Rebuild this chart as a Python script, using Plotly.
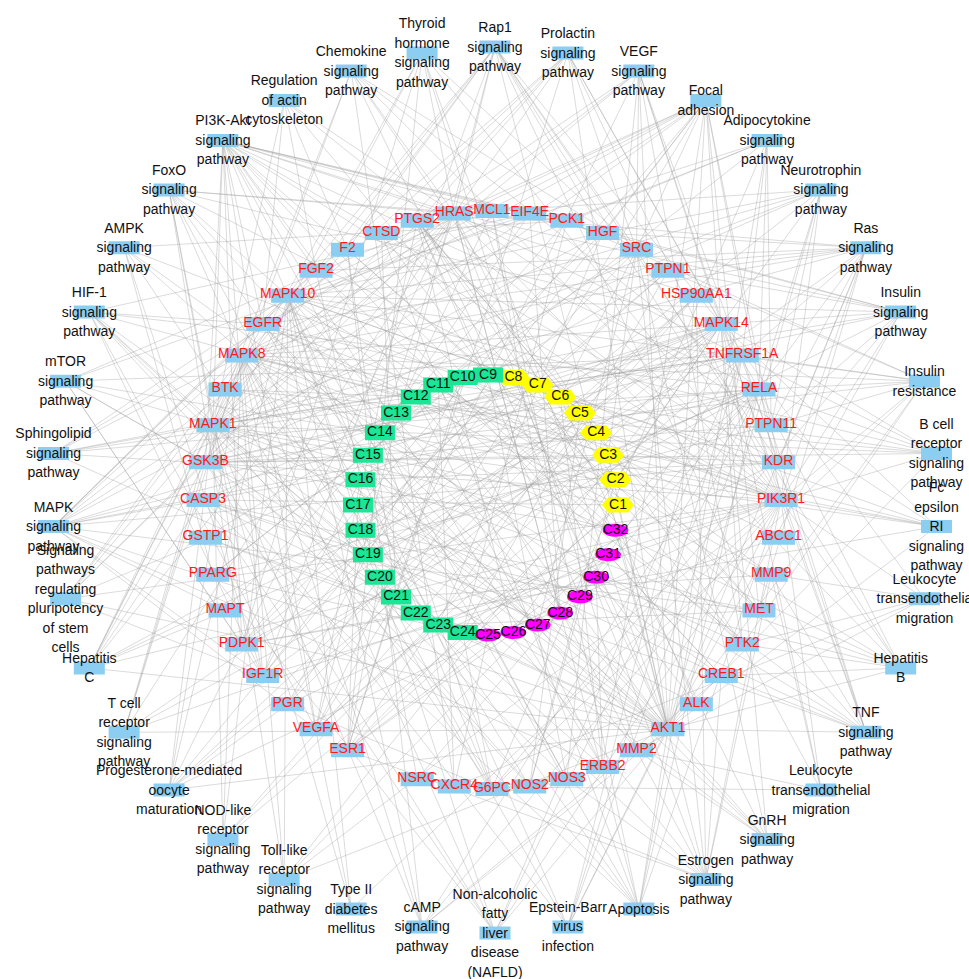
import math
import plotly.graph_objects as go

# ---------------- data ----------------
pathways = [
    "Rap1", "Prolactin", "VEGF", "Focal adhesion", "Adipocytokine", "Neurotrophin",
    "Ras", "Insulin", "Insulin resistance", "B cell receptor", "Fc epsilon RI",
    "Leukocyte TEM 1", "Hepatitis B", "TNF", "Leukocyte TEM 2", "GnRH", "Estrogen",
    "Apoptosis", "EBV", "NAFLD", "cAMP", "T2D", "Toll-like", "NOD-like",
    "Progesterone", "T cell receptor", "Hepatitis C", "Pluripotency", "MAPK",
    "Sphingolipid", "mTOR", "HIF-1", "AMPK", "FoxO", "PI3K-Akt", "Actin", "Chemokine",
    "Thyroid hormone",
]
pathway_labels = [
    "Rap1\nsignaling\npathway", "Prolactin\nsignaling\npathway", "VEGF\nsignaling\npathway",
    "Focal\nadhesion", "Adipocytokine\nsignaling\npathway", "Neurotrophin\nsignaling\npathway",
    "Ras\nsignaling\npathway", "Insulin\nsignaling\npathway", "Insulin\nresistance",
    "B cell\nreceptor\nsignaling\npathway", "Fc\nepsilon\nRI\nsignaling\npathway",
    "Leukocyte\ntransendothelia\nmigration", "Hepatitis\nB", "TNF\nsignaling\npathway",
    "Leukocyte\ntransendothelial\nmigration", "GnRH\nsignaling\npathway",
    "Estrogen\nsignaling\npathway", "Apoptosis", "Epstein-Barr\nvirus\ninfection",
    "Non-alcoholic\nfatty\nliver\ndisease\n(NAFLD)", "cAMP\nsignaling\npathway",
    "Type II\ndiabetes\nmellitus", "Toll-like\nreceptor\nsignaling\npathway",
    "NOD-like\nreceptor\nsignaling\npathway", "Progesterone-mediated\noocyte\nmaturation",
    "T cell\nreceptor\nsignaling\npathway", "Hepatitis\nC",
    "Signaling\npathways\nregulating\npluripotency\nof stem\ncells",
    "MAPK\nsignaling\npathway", "Sphingolipid\nsignaling\npathway", "mTOR\nsignaling\npathway",
    "HIF-1\nsignaling\npathway", "AMPK\nsignaling\npathway", "FoxO\nsignaling\npathway",
    "PI3K-Akt\nsignaling\npathway", "Regulation\nof actin\ncytoskeleton",
    "Chemokine\nsignaling\npathway", "Thyroid\nhormone\nsignaling\npathway",
]

genes = [
    "MCL1", "EIF4E", "PCK1", "HGF", "SRC", "PTPN1", "HSP90AA1", "MAPK14", "TNFRSF1A",
    "RELA", "PTPN11", "KDR", "PIK3R1", "ABCC1", "MMP9", "MET", "PTK2", "CREB1", "ALK",
    "AKT1", "MMP2", "ERBB2", "NOS3", "NOS2", "G6PC", "CXCR4", "NSRC", "ESR1", "VEGFA",
    "PGR", "IGF1R", "PDPK1", "MAPT", "PPARG", "GSTP1", "CASP3", "GSK3B", "MAPK1", "BTK",
    "MAPK8", "EGFR", "MAPK10", "FGF2", "F2", "CTSD", "PTGS2", "HRAS",
]

compounds = [
    "C1", "C2", "C3", "C4", "C5", "C6", "C7", "C8", "C9", "C10", "C11", "C12", "C13",
    "C14", "C15", "C16", "C17", "C18", "C19", "C20", "C21", "C22", "C23", "C24", "C25",
    "C26", "C27", "C28", "C29", "C30", "C31", "C32",
]
compound_class = ["A"] * 8 + ["B"] * 16 + ["C"] * 8

pathway_genes = {
    "Rap1": ["HRAS", "SRC", "KDR", "MET", "EGFR", "IGF1R", "FGF2", "HGF", "VEGFA", "MAPK1", "MAPK14", "AKT1", "PIK3R1", "F2"],
    "Prolactin": ["HRAS", "SRC", "MAPK1", "MAPK8", "MAPK14", "AKT1", "PIK3R1", "GSK3B", "ESR1", "RELA", "MAPK10"],
    "VEGF": ["HRAS", "SRC", "KDR", "VEGFA", "PTGS2", "NOS3", "MAPK1", "MAPK14", "AKT1", "PIK3R1", "PTK2"],
    "Focal adhesion": ["HRAS", "SRC", "KDR", "MET", "EGFR", "ERBB2", "IGF1R", "HGF", "VEGFA", "PTK2", "PDPK1", "AKT1", "PIK3R1", "GSK3B", "MAPK1", "MAPK8", "MAPK10"],
    "Adipocytokine": ["PCK1", "G6PC", "TNFRSF1A", "RELA", "MAPK8", "MAPK10", "AKT1", "PTPN11", "PPARG"],
    "Neurotrophin": ["HRAS", "PTPN11", "PDPK1", "AKT1", "PIK3R1", "GSK3B", "MAPK1", "MAPK8", "MAPK14", "MAPK10", "RELA"],
    "Ras": ["HRAS", "KDR", "MET", "EGFR", "IGF1R", "HGF", "VEGFA", "FGF2", "PTPN11", "AKT1", "PIK3R1", "MAPK1", "MAPK8", "MAPK10", "RELA"],
    "Insulin": ["HRAS", "PTPN1", "PTPN11", "PCK1", "G6PC", "EIF4E", "PDPK1", "AKT1", "PIK3R1", "GSK3B", "MAPK1", "MAPK8", "MAPK10"],
    "Insulin resistance": ["PTPN1", "PTPN11", "PCK1", "G6PC", "CREB1", "TNFRSF1A", "RELA", "AKT1", "PIK3R1", "GSK3B", "MAPK8", "MAPK10"],
    "B cell receptor": ["HRAS", "BTK", "GSK3B", "PIK3R1", "AKT1", "MAPK1", "MAPK8", "MAPK14", "MAPK10", "RELA"],
    "Fc epsilon RI": ["HRAS", "BTK", "PDPK1", "AKT1", "PIK3R1", "MAPK1", "MAPK8", "MAPK14", "MAPK10"],
    "Leukocyte TEM 1": ["PTK2", "CXCR4", "MMP9", "MMP2", "PIK3R1", "MAPK14"],
    "Hepatitis B": ["HRAS", "SRC", "PTK2", "AKT1", "PIK3R1", "MAPK1", "MAPK8", "MAPK10", "RELA", "CASP3", "CREB1"],
    "TNF": ["TNFRSF1A", "RELA", "MAPK1", "MAPK8", "MAPK14", "MAPK10", "AKT1", "PIK3R1", "CASP3", "PTGS2", "MMP9", "CREB1"],
    "Leukocyte TEM 2": ["PTK2", "CXCR4", "MMP9", "MMP2", "MAPK14", "PIK3R1"],
    "GnRH": ["HRAS", "SRC", "EGFR", "MAPK1", "MAPK8", "MAPK14", "MAPK10", "MMP2"],
    "Estrogen": ["HRAS", "SRC", "EGFR", "ESR1", "PGR", "HSP90AA1", "CREB1", "AKT1", "PIK3R1", "MAPK1", "MMP9", "MMP2", "NOS3"],
    "Apoptosis": ["TNFRSF1A", "RELA", "MCL1", "CASP3", "AKT1", "PIK3R1", "MAPK1", "MAPK8", "MAPK10", "CTSD", "HRAS"],
    "EBV": ["RELA", "MAPK8", "MAPK14", "MAPK10", "AKT1", "PIK3R1", "GSK3B", "TNFRSF1A"],
    "NAFLD": ["PIK3R1", "AKT1", "GSK3B", "MAPK8", "MAPK10", "TNFRSF1A", "RELA", "PPARG", "CASP3"],
    "cAMP": ["CREB1", "MAPK1", "MAPK8", "MAPK10", "AKT1", "PIK3R1", "RELA", "F2"],
    "T2D": ["PIK3R1", "MAPK1", "MAPK8", "MAPK10"],
    "Toll-like": ["RELA", "MAPK1", "MAPK8", "MAPK14", "MAPK10", "AKT1", "PIK3R1"],
    "NOD-like": ["RELA", "MAPK1", "MAPK8", "MAPK14", "MAPK10", "HSP90AA1"],
    "Progesterone": ["HRAS", "PGR", "MAPK1", "MAPK8", "MAPK14", "MAPK10", "AKT1", "PIK3R1", "IGF1R", "HSP90AA1"],
    "T cell receptor": ["HRAS", "AKT1", "PIK3R1", "GSK3B", "MAPK1", "MAPK14", "RELA", "MAPK8"],
    "Hepatitis C": ["HRAS", "EGFR", "RELA", "AKT1", "PIK3R1", "GSK3B", "MAPK1", "MAPK14", "MAPK8", "CASP3", "TNFRSF1A"],
    "Pluripotency": ["HRAS", "IGF1R", "FGF2", "GSK3B", "AKT1", "PIK3R1", "MAPK1", "MAPK14", "MAPK8"],
    "MAPK": ["HRAS", "EGFR", "IGF1R", "MET", "HGF", "KDR", "VEGFA", "FGF2", "ERBB2", "MAPK1", "MAPK8", "MAPK14", "MAPK10", "AKT1", "RELA", "CASP3", "TNFRSF1A", "MAPT"],
    "Sphingolipid": ["HRAS", "PIK3R1", "AKT1", "MAPK1", "MAPK8", "MAPK14", "MAPK10", "RELA", "TNFRSF1A"],
    "mTOR": ["HRAS", "EIF4E", "PDPK1", "AKT1", "PIK3R1", "GSK3B", "MAPK1", "IGF1R", "TNFRSF1A"],
    "HIF-1": ["EGFR", "ERBB2", "IGF1R", "VEGFA", "NOS3", "NOS2", "AKT1", "PIK3R1", "MAPK1", "RELA", "EIF4E"],
    "AMPK": ["PCK1", "G6PC", "CREB1", "PPARG", "AKT1", "PIK3R1", "IGF1R"],
    "FoxO": ["HRAS", "EGFR", "IGF1R", "PDPK1", "AKT1", "PIK3R1", "MAPK1", "MAPK8", "MAPK14", "MAPK10", "PCK1", "G6PC"],
    "PI3K-Akt": ["HRAS", "MCL1", "EIF4E", "PCK1", "HGF", "KDR", "MET", "EGFR", "ERBB2", "IGF1R", "FGF2", "VEGFA", "PTK2", "PDPK1", "AKT1", "PIK3R1", "GSK3B", "MAPK1", "RELA", "HSP90AA1", "NOS3", "CREB1", "G6PC"],
    "Actin": ["HRAS", "EGFR", "FGF2", "F2", "PTK2", "PIK3R1", "MAPK1"],
    "Chemokine": ["HRAS", "CXCR4", "PTK2", "AKT1", "PIK3R1", "GSK3B", "MAPK1", "RELA", "SRC"],
    "Thyroid hormone": ["HRAS", "SRC", "ESR1", "AKT1", "PIK3R1", "GSK3B", "MAPK1", "PDPK1", "MMP2"],
}

compound_targets = {
    "C1": ["AKT1", "MAPK1", "PTGS2", "ESR1", "CASP3", "EGFR"],
    "C2": ["PTGS2", "NOS2", "ESR1", "PPARG", "MAPK14"],
    "C3": ["AKT1", "SRC", "EGFR", "KDR", "MMP9", "GSK3B"],
    "C4": ["PTGS2", "PIK3R1", "MAPK8", "RELA", "CASP3"],
    "C5": ["HSP90AA1", "ESR1", "PGR", "NOS2", "PTGS2"],
    "C6": ["EGFR", "ERBB2", "MET", "KDR", "SRC", "ALK"],
    "C7": ["MAPK10", "MAPK14", "GSK3B", "TNFRSF1A", "PTPN1"],
    "C8": ["AKT1", "PIK3R1", "IGF1R", "PDPK1", "MAPK1"],
    "C9": ["PTGS2", "NOS3", "F2", "CTSD", "PTPN1"],
    "C10": ["ESR1", "PGR", "PPARG", "GSTP1", "ABCC1"],
    "C11": ["MMP2", "MMP9", "CXCR4", "PTK2", "SRC"],
    "C12": ["BTK", "EGFR", "ERBB2", "MAPK1"],
    "C13": ["CASP3", "MCL1", "RELA", "TNFRSF1A", "MAPK8"],
    "C14": ["HRAS", "EIF4E", "PCK1", "G6PC"],
    "C15": ["GSK3B", "MAPT", "MAPK14", "PTPN11", "HGF"],
    "C16": ["AKT1", "VEGFA", "KDR", "FGF2", "IGF1R"],
    "C17": ["PTGS2", "NOS2", "ESR1", "CREB1"],
    "C18": ["SRC", "PTPN1", "PTPN11", "MET", "ALK"],
    "C19": ["MAPK1", "MAPK8", "MAPK10", "MAPK14", "RELA"],
    "C20": ["ESR1", "PGR", "HSP90AA1", "NSRC"],
    "C21": ["CTSD", "F2", "MMP9", "CASP3"],
    "C22": ["AKT1", "PDPK1", "PIK3R1", "GSK3B"],
    "C23": ["EGFR", "KDR", "VEGFA", "HGF", "MET"],
    "C24": ["PPARG", "PCK1", "G6PC", "PTPN1", "GSTP1"],
    "C25": ["ABCC1", "GSTP1", "CXCR4", "NOS3"],
    "C26": ["PTGS2", "ESR1", "AKT1", "MAPK14"],
    "C27": ["EGFR", "SRC", "BTK", "MMP2"],
    "C28": ["CASP3", "MCL1", "EIF4E", "HRAS"],
    "C29": ["RELA", "TNFRSF1A", "NOS2", "PTGS2"],
    "C30": ["IGF1R", "ERBB2", "ALK", "PTK2"],
    "C31": ["ESR1", "PGR", "NSRC", "CREB1"],
    "C32": ["MAPK1", "AKT1", "GSK3B", "PIK3R1", "FGF2"],
}

# ---------------- layout (circular rings) ----------------
W, H = 969, 979
FONT = "Arial, Liberation Sans, sans-serif"
BLUE = "#8CCDF2"

pos = {}
P_CX, P_CY, P_R = 495, 490, 443
n_p = len(pathways)
for i, p in enumerate(pathways):
    a = math.radians(90 - i * 360.0 / n_p)
    pos["P:" + p] = (P_CX + P_R * math.cos(a), P_CY - P_R * math.sin(a))

G_CX, G_CY, G_R = 492, 500, 289
gap_after = genes.index("NSRC")
for i, g in enumerate(genes):
    slot = i + (1 if i > gap_after else 0)
    a = math.radians(90 - slot * 7.5)
    pos["G:" + g] = (G_CX + G_R * math.cos(a), G_CY - G_R * math.sin(a))

C_CX, C_CY, C_R = 488, 505, 130
n_c = len(compounds)
for i, c in enumerate(compounds):
    a = math.radians(i * 360.0 / n_c)
    pos["C:" + c] = (C_CX + C_R * math.cos(a), C_CY - C_R * math.sin(a))

# ---------------- edges ----------------
ex, ey = [], []
for p, gl in pathway_genes.items():
    x0, y0 = pos["P:" + p]
    for g in gl:
        x1, y1 = pos["G:" + g]
        ex += [x0, x1, None]
        ey += [y0, y1, None]
for c, gl in compound_targets.items():
    x0, y0 = pos["C:" + c]
    for g in gl:
        x1, y1 = pos["G:" + g]
        ex += [x0, x1, None]
        ey += [y0, y1, None]

fig = go.Figure()
fig.add_trace(go.Scatter(x=ex, y=ey, mode="lines",
                         line=dict(color="rgba(160,160,160,0.55)", width=0.7),
                         hoverinfo="skip", showlegend=False))


def rect_poly(xs, ys, cx, cy, w, h):
    xs += [cx - w / 2, cx + w / 2, cx + w / 2, cx - w / 2, cx - w / 2, None]
    ys += [cy - h / 2, cy - h / 2, cy + h / 2, cy + h / 2, cy - h / 2, None]


def hex_poly(xs, ys, cx, cy, w, h):
    d = 6
    xs += [cx - w / 2, cx - w / 2 + d, cx + w / 2 - d, cx + w / 2, cx + w / 2 - d, cx - w / 2 + d, cx - w / 2, None]
    ys += [cy, cy - h / 2, cy - h / 2, cy, cy + h / 2, cy + h / 2, cy, None]


def ell_poly(xs, ys, cx, cy, w, h):
    for k in range(33):
        t = 2 * math.pi * k / 32
        xs.append(cx + w / 2 * math.cos(t))
        ys.append(cy + h / 2 * math.sin(t))
    xs.append(None)
    ys.append(None)


# blue boxes (pathways + genes)
bx, by = [], []
for p in pathways:
    rect_poly(bx, by, *pos["P:" + p], 31, 13)
for g in genes:
    rect_poly(bx, by, *pos["G:" + g], 33, 14)
fig.add_trace(go.Scatter(x=bx, y=by, mode="lines", fill="toself", fillcolor=BLUE,
                         line=dict(width=0, color=BLUE), hoverinfo="skip", showlegend=False))

shape_traces = {"A": ([], [], "#FFFF00", hex_poly, 32, 15),
                "B": ([], [], "#1AE696", rect_poly, 30, 15),
                "C": ([], [], "#FF00FF", ell_poly, 26, 13)}
for c, k in zip(compounds, compound_class):
    xs, ys, col, fn, w, h = shape_traces[k]
    fn(xs, ys, *pos["C:" + c], w, h)
for k, (xs, ys, col, fn, w, h) in shape_traces.items():
    fig.add_trace(go.Scatter(x=xs, y=ys, mode="lines", fill="toself", fillcolor=col,
                             line=dict(width=0, color=col), hoverinfo="skip", showlegend=False))

# pathway text lines
LS = 19.5
tx, ty, tt = [], [], []
for p, lab in zip(pathways, pathway_labels):
    cx, cy = pos["P:" + p]
    lines = lab.split("\n")
    n = len(lines)
    for j, ln in enumerate(lines):
        tx.append(cx)
        ty.append(cy + (j - (n - 1) / 2) * LS + 1)
        tt.append(ln)
fig.add_trace(go.Scatter(x=tx, y=ty, text=tt, mode="text", textposition="middle center",
                         textfont=dict(family=FONT, size=14, color="#111111"),
                         hoverinfo="skip", showlegend=False))

# gene text
fig.add_trace(go.Scatter(x=[pos["G:" + g][0] for g in genes],
                         y=[pos["G:" + g][1] - 1 for g in genes],
                         text=genes, mode="text", textposition="middle center",
                         textfont=dict(family=FONT, size=14, color="#FF1A1A"),
                         hoverinfo="skip", showlegend=False))

# compound text
fig.add_trace(go.Scatter(x=[pos["C:" + c][0] for c in compounds],
                         y=[pos["C:" + c][1] for c in compounds],
                         text=compounds, mode="text", textposition="middle center",
                         textfont=dict(family=FONT, size=14, color="#111111"),
                         hoverinfo="skip", showlegend=False))

fig.update_layout(
    width=W, height=H, autosize=False,
    margin=dict(l=0, r=0, t=0, b=0),
    paper_bgcolor="white", plot_bgcolor="white",
    xaxis=dict(range=[0, W], visible=False, fixedrange=True),
    yaxis=dict(range=[H, 0], visible=False, fixedrange=True),
    showlegend=False,
)

fig.write_html("out.html", post_script="document.body.style.margin='0';",
               config={"displayModeBar": False})
